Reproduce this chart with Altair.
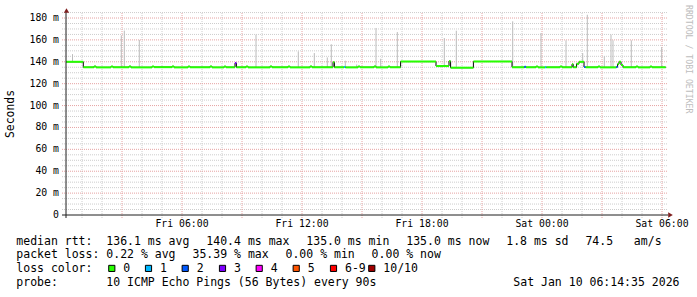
import altair as alt
import pandas as pd

# ---------------- data (hours since Fri 00:00, values in ms) ----------------
seg_start = [0.20, 1.065, 1.60, 1.70, 2.45, 2.55, 3.35, 3.45, 4.50, 4.60, 5.50, 5.60,
             6.30, 6.40, 7.40, 7.50, 8.10, 8.20, 8.65, 8.72, 9.20, 9.30, 10.40, 10.50,
             11.30, 11.40, 12.40, 12.50, 13.55, 13.62, 14.10, 14.17, 14.80, 14.90,
             15.60, 15.70, 16.30, 16.40, 16.93, 18.70, 19.35, 19.43, 20.57, 22.50,
             23.12, 23.20, 23.70, 23.80, 24.15, 24.22, 24.90, 25.00, 25.50, 25.56,
             25.73, 25.85, 26.10, 26.18, 26.80, 26.90, 27.72, 27.78, 27.85, 27.95,
             28.05, 28.70, 28.80, 29.40, 29.50]
seg_value = [140.0, 135.0, 135.8, 134.9, 135.7, 135.0, 135.8, 134.9, 135.7, 135.1, 135.8, 134.9,
             135.7, 135.0, 135.8, 134.9, 135.6, 135.0, 138.8, 135.0, 135.7, 134.9, 135.8, 135.0,
             135.7, 134.9, 135.8, 135.0, 139.6, 135.0, 135.2, 134.9, 135.7, 135.0,
             135.8, 134.9, 135.6, 135.0, 140.2, 136.1, 140.6, 134.6, 140.3, 135.0,
             135.4, 135.0, 135.7, 134.9, 135.1, 135.0, 135.7, 135.0, 137.8, 135.0,
             138.2, 140.0, 135.2, 135.0, 135.7, 134.9, 135.3, 138.0, 140.0, 137.0,
             135.0, 135.7, 134.9, 135.6, 135.0]
seg_loss = [0, 0, 0, 0, 0, 0, 0, 0, 0, 0, 0, 0,
            0, 0, 0, 0, 0, 0, 3, 0, 0, 0, 0, 0,
            0, 0, 0, 0, 0, 0, 1, 0, 0, 0,
            0, 0, 0, 0, 0, 0, 0, 0, 0, 0,
            2, 0, 0, 0, 1, 0, 0, 0, 0, 0,
            0, 0, 2, 0, 0, 0, 2, 0, 0, 0,
            0, 0, 0, 0, 0]
end_hour = 30.185

spike_hour = [0.525, 2.965, 3.115, 3.865, 9.70, 11.815, 12.615, 13.265, 13.465, 14.165,
              14.735, 15.70, 15.935, 16.765, 19.115, 19.715, 22.535, 23.95, 25.20, 26.035,
              26.265, 27.115, 27.45, 27.55, 28.465, 29.985]
spike_low = [140, 135, 135, 135, 135, 135, 135, 135, 135, 135,
             135, 135, 135, 135, 136, 135, 135, 135, 135, 140,
             135, 135, 135, 135, 135, 135]
spike_high = [147, 164, 168.5, 160, 164.8, 149.5, 148, 144, 156, 141,
              137.5, 170.9, 142.8, 167.2, 161.7, 168.4, 177, 166.3, 159.6, 148,
              183, 145, 164.8, 159.6, 159.6, 153.5]

y_ticks = [0, 20, 40, 60, 80, 100, 120, 140, 160, 180]
y_tick_labels = ["0  ", "20 m", "40 m", "60 m", "80 m", "100 m", "120 m", "140 m", "160 m", "180 m"]
x_ticks = [6, 12, 18, 24, 30]
x_tick_labels = ["Fri 06:00", "Fri 12:00", "Fri 18:00", "Sat 00:00", "Sat 06:00"]

loss_keys = ["0", "1", "2", "3", "4", "5", "6-9", "10/10"]
loss_colors = ["#26ff00", "#00b8ff", "#0059ff", "#7e00ff", "#ff00ff", "#ff5500", "#ff0000", "#a10000"]

rtt_items = ["median rtt:  136.1 ms avg", "140.4 ms max", "135.0 ms min", "135.0 ms now",
             "1.8 ms sd", "74.5   am/s"]
loss_items = ["packet loss: 0.22 % avg", "35.39 % max", "0.00 % min", "0.00 % now"]
color_title = "loss color:"
probe_text = "probe:       10 ICMP Echo Pings (56 Bytes) every 90s"
date_text = "Sat Jan 10 06:14:35 2026"
y_title = "Seconds"
side_text = "RRDTOOL / TOBI OETIKER"

# ---------------- layout ----------------
FONT = "DejaVu Sans Mono"
LEFT, TOP = 66, 12
W, H = 600, 203
NB = "\u00a0"


def key_of(n):
    if n <= 5:
        return str(n)
    return "6-9" if n < 10 else "10/10"


seg = pd.DataFrame({
    "start": seg_start,
    "end": seg_start[1:] + [end_hour],
    "value": seg_value,
    "loss": [key_of(n) for n in seg_loss],
})
med = pd.DataFrame({"t": seg_start + [end_hour], "v": seg_value + [seg_value[-1]]})
smoke = pd.DataFrame({"h": spike_hour, "lo": spike_low, "hi": spike_high})
xlab = pd.DataFrame({"h": x_ticks, "lab": [s.replace(" ", NB) for s in x_tick_labels]})
ylab = pd.DataFrame({"v": y_ticks, "lab": [s.replace(" ", NB) for s in y_tick_labels]})

xs = alt.Scale(domain=[0.2, 30.2], nice=False, zero=False)
ys = alt.Scale(domain=[0, 185.5], nice=False, zero=False)

minor_x = pd.DataFrame({"h": [h for h in range(1, 31) if h % 3]})
major_x = pd.DataFrame({"h": [h for h in range(3, 31, 3)]})
minor_y = pd.DataFrame({"v": [v for v in range(5, 186, 5) if v % 20]})
major_y = pd.DataFrame({"v": [v for v in range(20, 181, 20)]})

GRID_MINOR = "#cdcdcd"
GRID_MAJOR = "#e6a3a3"

layers = []
layers.append(alt.Chart(minor_x).mark_rule(color=GRID_MINOR, strokeDash=[1, 1]).encode(
    x=alt.X("h:Q", scale=xs, axis=None), y=alt.value(1), y2=alt.value(H + 3)))
layers.append(alt.Chart(minor_y).mark_rule(color=GRID_MINOR, strokeDash=[1, 1]).encode(
    y=alt.Y("v:Q", scale=ys, axis=None), x=alt.value(-4), x2=alt.value(W + 2)))
layers.append(alt.Chart(major_x).mark_rule(color=GRID_MAJOR, strokeDash=[1, 1]).encode(
    x=alt.X("h:Q", scale=xs, axis=None), y=alt.value(1), y2=alt.value(H + 3)))
layers.append(alt.Chart(major_y).mark_rule(color=GRID_MAJOR, strokeDash=[1, 1]).encode(
    y=alt.Y("v:Q", scale=ys, axis=None), x=alt.value(-4), x2=alt.value(W + 2)))

layers.append(alt.Chart(smoke).mark_rule(color="#bbbbbb", strokeWidth=1).encode(
    x=alt.X("h:Q", scale=xs, axis=None),
    y=alt.Y("lo:Q", scale=ys, axis=None),
    y2="hi:Q"))

layers.append(alt.Chart(med).mark_line(interpolate="step-after", color="#000000", strokeWidth=1).encode(
    x=alt.X("t:Q", scale=xs, axis=None), y=alt.Y("v:Q", scale=ys, axis=None)))

layers.append(alt.Chart(seg).mark_rule(strokeWidth=2, strokeCap="butt").encode(
    x=alt.X("start:Q", scale=xs, axis=None), x2="end:Q",
    y=alt.Y("value:Q", scale=ys, axis=None),
    color=alt.Color("loss:N", scale=alt.Scale(domain=loss_keys, range=loss_colors), legend=None)))

# tick labels, placed through the scales
layers.append(alt.Chart(xlab).mark_text(font=FONT, fontSize=9.8, color="#000000", align="center",
                                        baseline="middle").encode(
    x=alt.X("h:Q", scale=xs, axis=None), y=alt.value(H + 9.3), text="lab:N"))
layers.append(alt.Chart(ylab).mark_text(font=FONT, fontSize=9.8, color="#000000", align="right",
                                        baseline="middle").encode(
    y=alt.Y("v:Q", scale=ys, axis=None), x=alt.value(-7), text="lab:N"))

one = pd.DataFrame({"k": [0]})
AXIS_COL = "#1f1f1f"
ARROW_COL = "#7f1f1f"
layers.append(alt.Chart(one).mark_rule(color=AXIS_COL).encode(
    x=alt.value(0), y=alt.value(0), y2=alt.value(H + 3)))
layers.append(alt.Chart(one).mark_rule(color=AXIS_COL).encode(
    y=alt.value(H), x=alt.value(-4), x2=alt.value(W + 2)))
layers.append(alt.Chart(one).mark_point(shape="triangle-up", filled=True, size=28, color=ARROW_COL, opacity=1).encode(
    x=alt.value(0.5), y=alt.value(-1.5)))
layers.append(alt.Chart(one).mark_point(shape="triangle-right", filled=True, size=28, color=ARROW_COL, opacity=1).encode(
    x=alt.value(W + 4.5), y=alt.value(H)))


def text(txt, x_abs, y_abs, size=11.5, align="left", angle=0, color="#000000"):
    kw = dict(text=txt.replace(" ", NB), font=FONT, fontSize=size, align=align,
              baseline="middle", color=color)
    if angle:
        kw["angle"] = angle
    return alt.Chart(one).mark_text(**kw).encode(x=alt.value(x_abs - LEFT), y=alt.value(y_abs - TOP))


CHAR = 6.93
GAP = 16.8
X0 = 16.3


def row(items, y_abs):
    x = X0
    out = []
    for it in items:
        out.append(text(it, x, y_abs))
        x += len(it) * CHAR + GAP
    return out


layers += row(rtt_items, 241.5)
layers += row(loss_items, 255.3)
layers.append(text(color_title, X0, 269.0))
label_x = [123.3, 160.0, 196.7, 234.0, 270.7, 307.7, 345.0, 383.3]
for i, (k, c) in enumerate(zip(loss_keys, loss_colors)):
    layers.append(alt.Chart(one).mark_square(size=38, color=c, opacity=1, stroke="#000000", strokeWidth=1).encode(
        x=alt.value(label_x[i] - 11.5 - LEFT), y=alt.value(268.4 - TOP)))
    layers.append(text(k, label_x[i], 269.0))
layers.append(text(probe_text, X0, 282.7))
layers.append(text(date_text, 679.5, 282.7, align="right"))
layers.append(text(y_title, 10.5, 114, size=11.4, align="center", angle=270))
layers.append(text(side_text, 688, 5, size=8.2, align="left", angle=90, color="#bdbdbd"))

chart = alt.layer(*layers).properties(
    width=W, height=H,
    padding={"left": LEFT, "top": TOP, "right": 697 - LEFT - W, "bottom": 297 - TOP - H},
    autosize=alt.AutoSizeParams(type="none"),
    background="#ffffff",
).configure_view(stroke=None)

chart.save("out.html", embed_options={"renderer": "svg", "actions": False})
